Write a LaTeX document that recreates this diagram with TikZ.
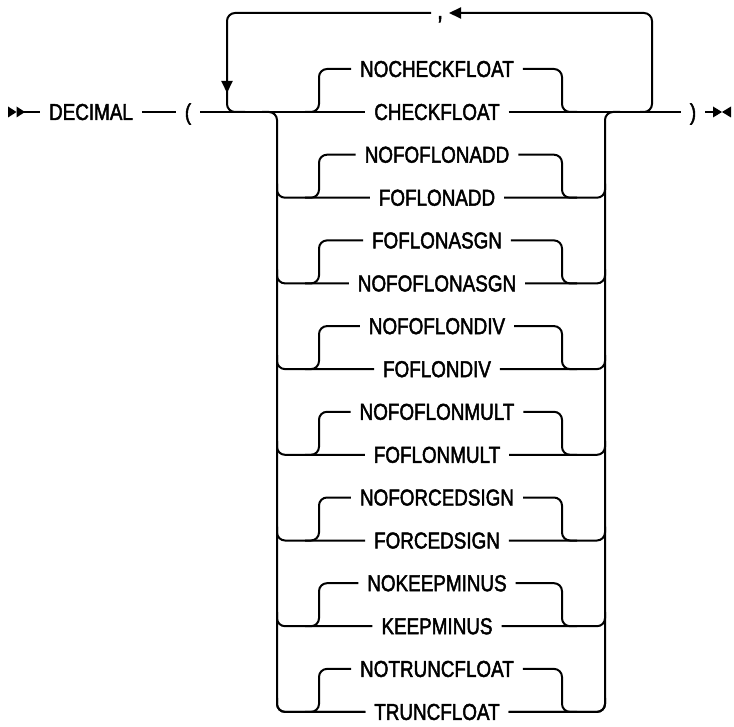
\documentclass[tikz,border=0pt]{standalone}
\usepackage{fontspec}
\setmainfont{Liberation Sans}[FakeStretch=0.82,FakeBold=2]
\usetikzlibrary{arrows.meta}
\begin{document}
\begin{tikzpicture}[x=1pt,y=-1pt, line width=2pt,
  rr/.style={rounded corners=8pt},
  lbl/.style={font=\fontsize{23}{23}\selectfont, inner xsep=8pt, inner ysep=0pt, text height=16pt, text depth=0pt},
  tip/.style={-{Triangle[length=12pt,width=11pt]}}]
\useasboundingbox (0,0) rectangle (734,727);
% start / end
\node[lbl] (dec) at (91,112) {DECIMAL};
\node[lbl] (lp) at (188,112) {(};
\node[lbl] (rp) at (693,112) {)};
\coordinate (st) at (24,112);
\coordinate (en) at (713,112);
\fill (8,106.5) -- (16.5,112) -- (8,117.5) -- cycle;
\fill (16.5,106.5) -- (25,112) -- (16.5,117.5) -- cycle;
\draw (st) -- (dec.west);
\draw (dec.east) -- (lp.west);
\draw (rp.east) -- (en);
\fill (713,106.5) -- (722,112) -- (713,117.5) -- cycle;
\fill (731,106.5) -- (722,112) -- (731,117.5) -- cycle;
% choices
\foreach \i/\t/\b in {0/NOCHECKFLOAT/CHECKFLOAT, 1/NOFOFLONADD/FOFLONADD,
  2/FOFLONASGN/NOFOFLONASGN, 3/NOFOFLONDIV/FOFLONDIV, 4/NOFOFLONMULT/FOFLONMULT,
  5/NOFORCEDSIGN/FORCEDSIGN, 6/NOKEEPMINUS/KEEPMINUS, 7/NOTRUNCFLOAT/TRUNCFLOAT} {
  \pgfmathsetmacro\yb{112+85.7*\i}
  \pgfmathsetmacro\yt{\yb-43}
  \node[lbl] (T\i) at (437,\yt) {\t};
  \node[lbl] (B\i) at (437,\yb) {\b};
  \draw[rr] (305,\yb) -| (319,\yt) -- (T\i.west);
  \draw[rr] (T\i.east) -| (562,\yb) -- (577,\yb);
  \ifnum\i>0
    \draw[rr] (277,\yb-14) |- (B\i.west);
    \draw[rr] (B\i.east) -| (605,\yb-14);
  \fi
}
\draw (lp.east) -- (B0.west);
\draw (B0.east) -- (rp.west);
\draw[rr] (262,112) -| (277,711.9) -- (B7.west);
\draw[rr] (B7.east) -| (605,112) -- (620,112);
% repeat loop
\node[font=\fontsize{26}{26}\selectfont, anchor=base, inner sep=0pt] (comma) at (440,19) {,};
\coordinate (cE) at (449,13);
\coordinate (cW) at (431,13);
\draw[rr, tip] (640,112) -| (652,13) -- (cE);
\draw[rr, tip] (cW) -| (227,93);
\draw[rr] (227,85) |- (245,112);
\end{tikzpicture}
\end{document}
